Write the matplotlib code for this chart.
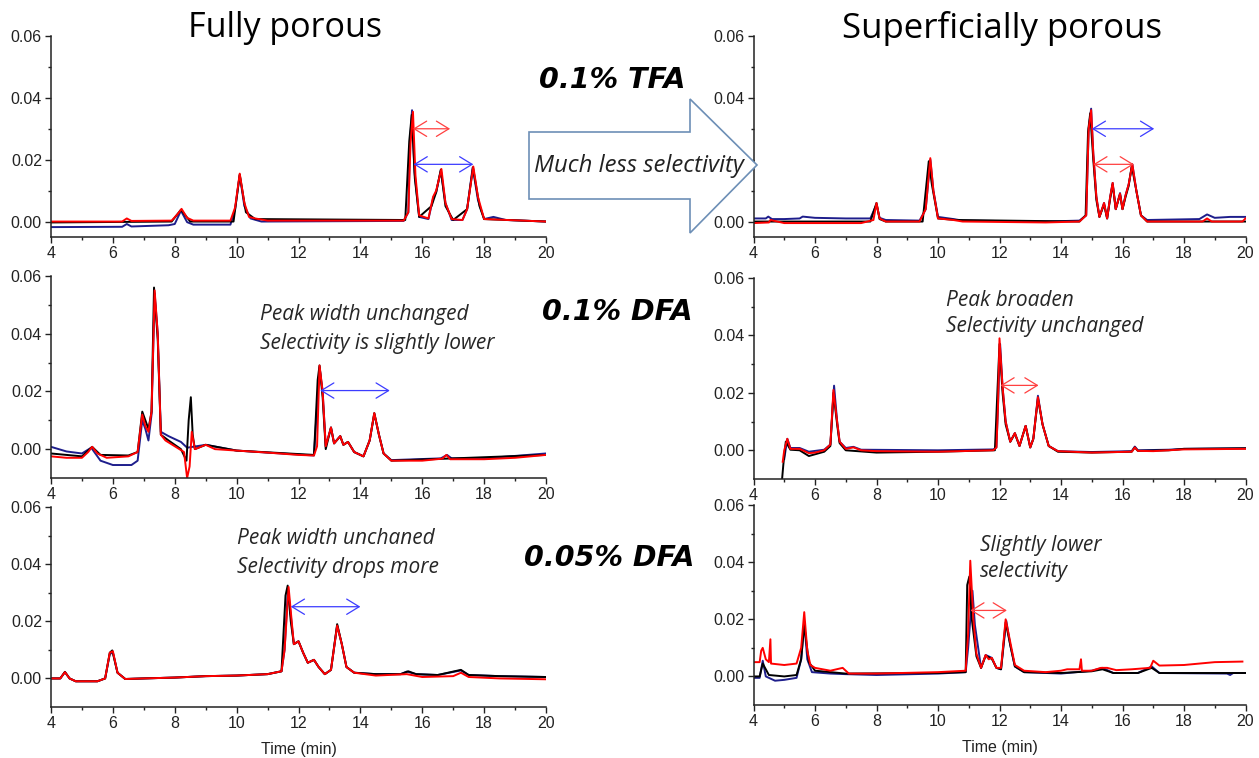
import matplotlib
matplotlib.use("Agg")
import matplotlib.pyplot as plt
from matplotlib.patches import Polygon

# =========================================================
# Chromatogram traces: (time min, absorbance)
# =========================================================

# ---- Fully porous, 0.1% TFA ----
fp_tfa_blue = [(4.0, -0.0018), (6.3, -0.0017), (6.45, -0.0008), (6.6, -0.0016), (7.8, -0.0012),
               (8.0, -0.0008), (8.2, 0.0035), (8.4, -0.0002), (8.6, -0.0010), (9.8, -0.0010),
               (9.95, 0.0040), (10.1, 0.0150), (10.25, 0.0050), (10.45, 0.0010), (10.8, 0.0000),
               (15.4, 0.0002), (15.55, 0.0030), (15.6, 0.0250), (15.67, 0.0360), (15.75, 0.0160),
               (15.9, 0.0015), (16.2, 0.0008), (16.35, 0.0075), (16.45, 0.0095), (16.6, 0.0165),
               (16.75, 0.0060), (16.95, 0.0005), (17.3, 0.0005), (17.45, 0.0040), (17.63, 0.0175),
               (17.8, 0.0070), (18.0, 0.0008), (18.3, 0.0015), (18.5, 0.0010), (18.7, 0.0005),
               (20.0, 0.0000)]
fp_tfa_black = [(4.0, -0.0003), (7.9, 0.0000), (8.2, 0.0038), (8.5, 0.0000), (9.9, 0.0000),
                (10.1, 0.0152), (10.3, 0.0030), (10.6, 0.0008), (15.45, 0.0005), (15.58, 0.0260),
                (15.66, 0.0345), (15.76, 0.0140), (15.9, 0.0015), (16.3, 0.0050), (16.45, 0.0095),
                (16.6, 0.0168), (16.75, 0.0050), (17.0, 0.0005), (17.45, 0.0040), (17.64, 0.0175),
                (17.85, 0.0050), (18.0, 0.0008), (20.0, 0.0000)]
fp_tfa_red = [(4.0, 0.0000), (6.3, 0.0000), (6.45, 0.0010), (6.6, 0.0002), (7.9, 0.0003),
              (8.1, 0.0025), (8.22, 0.0041), (8.4, 0.0012), (8.6, 0.0003), (9.8, 0.0003),
              (9.95, 0.0045), (10.1, 0.0155), (10.25, 0.0060), (10.4, 0.0015), (10.6, 0.0010),
              (11.0, 0.0003), (15.4, 0.0003), (15.55, 0.0030), (15.62, 0.0250), (15.7, 0.0355),
              (15.78, 0.0150), (15.9, 0.0020), (16.2, 0.0010), (16.35, 0.0080), (16.45, 0.0100),
              (16.62, 0.0170), (16.75, 0.0060), (16.95, 0.0008), (17.3, 0.0005), (17.45, 0.0040),
              (17.65, 0.0178), (17.8, 0.0080), (18.0, 0.0008), (20.0, 0.0000)]

# ---- Fully porous, 0.1% DFA ----
fp_dfa_blue = [(4.0, 0.0008), (4.5, -0.0008), (5.0, -0.0015), (5.3, 0.0005), (5.6, -0.0040),
               (6.0, -0.0055), (6.6, -0.0055), (6.8, -0.0040), (6.95, 0.0100), (7.05, 0.0070),
               (7.15, 0.0030), (7.25, 0.0120), (7.35, 0.0540), (7.45, 0.0400), (7.55, 0.0060),
               (7.8, 0.0045), (8.2, 0.0025), (8.4, 0.0005), (8.7, 0.0010), (9.0, 0.0015),
               (10.0, -0.0005), (11.0, -0.0012), (12.5, -0.0022), (12.68, 0.0285), (12.78, 0.0200),
               (12.88, 0.0010), (13.05, 0.0075), (13.15, 0.0020), (13.35, 0.0045), (13.45, 0.0015),
               (13.6, 0.0025), (13.8, -0.0010), (14.1, -0.0025), (14.3, 0.0030), (14.45, 0.0122),
               (14.6, 0.0050), (14.75, -0.0015), (15.0, -0.0038), (16.6, -0.0032), (16.8, -0.0020),
               (16.95, -0.0032), (18.0, -0.0032), (20.0, -0.0015)]
fp_dfa_black = [(4.0, -0.0015), (5.0, -0.0025), (5.33, 0.0008), (5.6, -0.0020), (6.5, -0.0022),
                (6.8, -0.0010), (6.95, 0.0130), (7.15, 0.0070), (7.25, 0.0130), (7.33, 0.0560),
                (7.45, 0.0380), (7.55, 0.0050), (7.8, 0.0030), (8.2, 0.0000), (8.38, -0.0040),
                (8.45, 0.0100), (8.52, 0.0180), (8.58, 0.0050), (8.65, 0.0000), (9.0, 0.0015),
                (10.0, -0.0005), (12.5, -0.0020), (12.62, 0.0240), (12.68, 0.0290), (12.78, 0.0180),
                (12.88, 0.0000), (13.05, 0.0075), (13.15, 0.0020), (13.35, 0.0045), (13.45, 0.0015),
                (13.6, 0.0025), (13.8, -0.0010), (14.1, -0.0025), (14.3, 0.0030), (14.45, 0.0125),
                (14.6, 0.0050), (14.75, -0.0015), (15.0, -0.0040), (20.0, -0.0020)]
fp_dfa_red = [(4.0, -0.0025), (4.5, -0.0030), (5.0, -0.0030), (5.2, -0.0010), (5.33, 0.0008),
              (5.5, -0.0015), (5.8, -0.0030), (6.5, -0.0025), (6.8, -0.0010), (6.95, 0.0120),
              (7.05, 0.0080), (7.15, 0.0060), (7.25, 0.0130), (7.35, 0.0550), (7.45, 0.0400),
              (7.55, 0.0050), (7.7, 0.0030), (8.0, 0.0010), (8.3, -0.0010), (8.4, -0.0100),
              (8.48, -0.0060), (8.55, 0.0060), (8.65, 0.0000), (9.0, 0.0015), (9.3, 0.0000),
              (10.0, -0.0005), (11.0, -0.0012), (12.0, -0.0020), (12.5, -0.0022), (12.6, 0.0010),
              (12.68, 0.0290), (12.78, 0.0200), (12.88, 0.0010), (13.05, 0.0075), (13.15, 0.0020),
              (13.35, 0.0045), (13.45, 0.0015), (13.6, 0.0025), (13.8, -0.0010), (14.1, -0.0025),
              (14.3, 0.0030), (14.45, 0.0125), (14.6, 0.0050), (14.75, -0.0015), (15.0, -0.0040),
              (16.0, -0.0040), (16.65, -0.0033), (16.78, -0.0020), (16.9, -0.0035), (18.0, -0.0035),
              (19.0, -0.0030), (20.0, -0.0020)]

# ---- Fully porous, 0.05% DFA ----
fp_dfa05_blue = [(4.0, 0.0000), (4.3, 0.0000), (4.45, 0.0022), (4.6, 0.0000), (4.8, -0.0010),
                 (5.5, -0.0010), (5.75, 0.0000), (5.9, 0.0085), (6.0, 0.0092), (6.15, 0.0020),
                 (6.4, -0.0002), (7.0, 0.0000), (8.0, 0.0003), (9.0, 0.0008), (10.0, 0.0010),
                 (11.0, 0.0015), (11.45, 0.0025), (11.55, 0.0100), (11.66, 0.0315), (11.78, 0.0190),
                 (11.85, 0.0120), (12.0, 0.0130), (12.15, 0.0090), (12.3, 0.0055), (12.5, 0.0065),
                 (12.65, 0.0040), (12.85, 0.0015), (13.05, 0.0030), (13.25, 0.0185), (13.4, 0.0120),
                 (13.55, 0.0040), (13.8, 0.0020), (14.5, 0.0015), (15.3, 0.0015), (15.5, 0.0024),
                 (15.8, 0.0015), (16.5, 0.0012), (17.25, 0.0028), (17.5, 0.0012), (18.5, 0.0008),
                 (20.0, 0.0005)]
fp_dfa05_black = [(4.0, 0.0000), (4.3, 0.0000), (4.45, 0.0023), (4.6, 0.0000), (4.8, -0.0010),
                  (5.5, -0.0010), (5.75, 0.0000), (5.9, 0.0090), (5.98, 0.0098), (6.15, 0.0020),
                  (6.4, -0.0002), (7.0, 0.0000), (8.0, 0.0003), (9.0, 0.0008), (10.0, 0.0010),
                  (11.0, 0.0015), (11.45, 0.0025), (11.58, 0.0290), (11.65, 0.0325), (11.75, 0.0200),
                  (11.85, 0.0120), (12.0, 0.0130), (12.15, 0.0090), (12.3, 0.0055), (12.5, 0.0065),
                  (12.65, 0.0040), (12.85, 0.0015), (13.05, 0.0030), (13.25, 0.0190), (13.4, 0.0120),
                  (13.55, 0.0040), (13.8, 0.0020), (14.5, 0.0015), (15.3, 0.0015), (15.55, 0.0025),
                  (15.8, 0.0015), (16.5, 0.0012), (17.25, 0.0030), (17.5, 0.0012), (18.5, 0.0008),
                  (20.0, 0.0005)]
fp_dfa05_red = [(4.0, 0.0000), (4.3, 0.0000), (4.45, 0.0022), (4.6, 0.0000), (4.8, -0.0010),
                (5.5, -0.0010), (5.75, 0.0000), (5.9, 0.0090), (6.0, 0.0095), (6.15, 0.0020),
                (6.4, -0.0002), (7.0, 0.0000), (8.0, 0.0003), (9.0, 0.0008), (10.0, 0.0010),
                (11.0, 0.0015), (11.45, 0.0025), (11.55, 0.0100), (11.68, 0.0320), (11.78, 0.0200),
                (11.85, 0.0120), (12.0, 0.0130), (12.15, 0.0090), (12.3, 0.0055), (12.5, 0.0065),
                (12.65, 0.0040), (12.85, 0.0015), (13.05, 0.0030), (13.25, 0.0185), (13.4, 0.0120),
                (13.55, 0.0040), (13.8, 0.0020), (14.5, 0.0010), (15.5, 0.0015), (16.0, 0.0005),
                (17.0, 0.0008), (17.25, 0.0020), (17.5, 0.0005), (18.5, 0.0000), (20.0, -0.0003)]

# ---- Superficially porous, 0.1% TFA ----
spp_tfa_blue = [(4.0, 0.0010), (4.4, 0.0010), (4.48, 0.0016), (4.6, 0.0008), (5.0, 0.0008),
                (5.5, 0.0010), (5.6, 0.0016), (6.0, 0.0012), (7.0, 0.0010), (7.8, 0.0010),
                (8.0, 0.0055), (8.1, 0.0012), (8.3, 0.0005), (9.4, 0.0003), (9.6, 0.0040),
                (9.75, 0.0200), (9.85, 0.0100), (10.0, 0.0015), (10.5, 0.0008), (10.8, 0.0003),
                (13.5, 0.0000), (14.6, 0.0003), (14.82, 0.0020), (14.9, 0.0300), (14.98, 0.0365),
                (15.05, 0.0220), (15.15, 0.0080), (15.25, 0.0015), (15.4, 0.0060), (15.5, 0.0010),
                (15.6, 0.0080), (15.68, 0.0125), (15.78, 0.0040), (15.92, 0.0092), (16.0, 0.0040),
                (16.1, 0.0085), (16.2, 0.0120), (16.32, 0.0185), (16.45, 0.0100), (16.6, 0.0020),
                (16.8, 0.0005), (18.5, 0.0008), (18.75, 0.0023), (19.0, 0.0012), (19.5, 0.0015),
                (20.0, 0.0015)]
spp_tfa_black = [(4.0, 0.0000), (7.8, 0.0000), (8.0, 0.0060), (8.1, 0.0008), (8.3, 0.0000),
                 (9.5, 0.0000), (9.7, 0.0195), (9.8, 0.0120), (10.0, 0.0010), (10.6, 0.0005),
                 (14.6, 0.0000), (14.8, 0.0020), (14.88, 0.0290), (14.95, 0.0350), (15.05, 0.0200),
                 (15.15, 0.0070), (15.25, 0.0015), (15.4, 0.0055), (15.5, 0.0010), (15.6, 0.0075),
                 (15.68, 0.0120), (15.78, 0.0040), (15.92, 0.0088), (16.0, 0.0040), (16.1, 0.0080),
                 (16.2, 0.0115), (16.3, 0.0180), (16.45, 0.0100), (16.6, 0.0020), (16.8, 0.0000),
                 (20.0, 0.0000)]
spp_tfa_red = [(4.0, -0.0005), (4.5, -0.0003), (4.55, 0.0005), (5.0, -0.0005), (6.0, -0.0005),
               (7.5, -0.0005), (7.9, 0.0005), (8.0, 0.0060), (8.1, 0.0010), (8.3, 0.0000),
               (9.4, 0.0000), (9.6, 0.0040), (9.75, 0.0205), (9.85, 0.0100), (10.0, 0.0010),
               (10.5, 0.0005), (10.8, 0.0000), (13.5, -0.0003), (14.6, 0.0000), (14.82, 0.0020),
               (14.9, 0.0300), (14.98, 0.0360), (15.05, 0.0220), (15.15, 0.0080), (15.25, 0.0015),
               (15.4, 0.0060), (15.5, 0.0010), (15.6, 0.0080), (15.68, 0.0125), (15.78, 0.0040),
               (15.92, 0.0090), (16.0, 0.0040), (16.1, 0.0085), (16.2, 0.0120), (16.32, 0.0185),
               (16.45, 0.0100), (16.6, 0.0020), (16.8, 0.0000), (18.6, 0.0000), (18.75, 0.0010),
               (18.9, 0.0000), (19.9, 0.0000), (20.0, 0.0010)]

# ---- Superficially porous, 0.1% DFA ----
spp_dfa_blue = [(5.0, -0.0030), (5.1, 0.0040), (5.2, 0.0008), (5.5, 0.0008), (5.8, -0.0005),
                (6.3, 0.0002), (6.5, 0.0020), (6.62, 0.0225), (6.72, 0.0100), (6.8, 0.0030),
                (7.0, 0.0008), (7.25, 0.0012), (7.5, 0.0002), (10.0, 0.0000), (11.8, 0.0003),
                (11.9, 0.0010), (11.95, 0.0150), (12.02, 0.0370), (12.1, 0.0220), (12.2, 0.0100),
                (12.35, 0.0030), (12.5, 0.0060), (12.65, 0.0015), (12.85, 0.0085), (13.0, 0.0010),
                (13.1, 0.0040), (13.25, 0.0190), (13.4, 0.0090), (13.6, 0.0015), (13.9, -0.0003),
                (15.0, -0.0006), (16.3, -0.0003), (16.4, 0.0013), (16.5, 0.0000), (17.5, 0.0002),
                (18.0, 0.0005), (20.0, 0.0007)]
spp_dfa_black = [(4.93, -0.0100), (4.97, -0.0050), (5.05, 0.0030), (5.2, 0.0002), (5.5, 0.0000),
                 (5.8, -0.0020), (6.3, -0.0005), (6.5, 0.0015), (6.6, 0.0200), (6.72, 0.0090),
                 (6.8, 0.0025), (7.0, 0.0000), (8.0, -0.0008), (10.0, -0.0005), (11.85, 0.0000),
                 (11.93, 0.0200), (12.0, 0.0370), (12.1, 0.0200), (12.2, 0.0090), (12.35, 0.0030),
                 (12.5, 0.0058), (12.65, 0.0015), (12.85, 0.0085), (13.0, 0.0010), (13.1, 0.0040),
                 (13.25, 0.0180), (13.4, 0.0090), (13.6, 0.0015), (13.9, -0.0005), (15.0, -0.0008),
                 (16.3, -0.0005), (16.4, 0.0010), (16.5, -0.0002), (17.5, 0.0000), (18.0, 0.0005),
                 (20.0, 0.0007)]
spp_dfa_red = [(4.95, -0.0040), (5.0, 0.0000), (5.1, 0.0040), (5.2, 0.0005), (5.5, 0.0005),
               (5.8, -0.0010), (6.0, -0.0008), (6.3, 0.0000), (6.5, 0.0020), (6.6, 0.0210),
               (6.72, 0.0100), (6.8, 0.0030), (7.0, 0.0005), (7.25, 0.0010), (7.5, 0.0000),
               (8.0, -0.0003), (10.0, -0.0005), (11.8, 0.0000), (11.9, 0.0010), (11.95, 0.0150),
               (12.0, 0.0390), (12.1, 0.0220), (12.2, 0.0100), (12.35, 0.0030), (12.5, 0.0060),
               (12.65, 0.0015), (12.85, 0.0085), (13.0, 0.0010), (13.1, 0.0040), (13.25, 0.0185),
               (13.4, 0.0090), (13.6, 0.0015), (13.9, -0.0003), (15.0, -0.0008), (16.3, -0.0005),
               (16.4, 0.0010), (16.5, -0.0002), (17.0, -0.0003), (17.5, 0.0000), (18.0, 0.0003),
               (20.0, 0.0005)]

# ---- Superficially porous, 0.05% DFA ----
spp_dfa05_blue = [(4.0, -0.0005), (4.2, -0.0005), (4.3, 0.0055), (4.4, 0.0000), (4.7, -0.0015),
                  (5.0, -0.0012), (5.4, -0.0005), (5.55, 0.0060), (5.65, 0.0190), (5.75, 0.0060),
                  (5.9, 0.0015), (6.5, 0.0010), (7.0, 0.0008), (8.0, 0.0005), (10.0, 0.0010),
                  (10.9, 0.0015), (10.98, 0.0100), (11.12, 0.0300), (11.2, 0.0180), (11.4, 0.0030),
                  (11.55, 0.0075), (11.75, 0.0065), (11.9, 0.0030), (12.05, 0.0025), (12.22, 0.0195),
                  (12.35, 0.0110), (12.5, 0.0035), (12.8, 0.0015), (14.0, 0.0010), (15.0, 0.0020),
                  (15.35, 0.0030), (15.7, 0.0012), (16.5, 0.0012), (16.95, 0.0035), (17.2, 0.0012),
                  (19.4, 0.0010), (19.5, 0.0005), (19.6, 0.0012), (20.0, 0.0012)]
spp_dfa05_black = [(4.0, 0.0000), (4.2, 0.0000), (4.3, 0.0045), (4.5, 0.0005), (5.0, 0.0000),
                   (5.4, 0.0005), (5.55, 0.0060), (5.65, 0.0180), (5.8, 0.0050), (6.0, 0.0020),
                   (7.0, 0.0010), (10.0, 0.0012), (10.9, 0.0015), (10.95, 0.0320), (11.02, 0.0350),
                   (11.1, 0.0200), (11.25, 0.0070), (11.4, 0.0030), (11.55, 0.0072), (11.75, 0.0062),
                   (11.9, 0.0030), (12.05, 0.0025), (12.2, 0.0190), (12.35, 0.0110), (12.5, 0.0035),
                   (12.8, 0.0015), (14.0, 0.0012), (15.0, 0.0018), (15.35, 0.0025), (15.7, 0.0012),
                   (16.5, 0.0012), (16.95, 0.0030), (17.2, 0.0012), (20.0, 0.0012)]
spp_dfa05_red = [(4.0, 0.0050), (4.2, 0.0050), (4.25, 0.0090), (4.3, 0.0100), (4.4, 0.0060),
                 (4.5, 0.0050), (4.55, 0.0130), (4.57, 0.0045), (5.0, 0.0040), (5.4, 0.0045),
                 (5.55, 0.0100), (5.65, 0.0225), (5.75, 0.0090), (5.85, 0.0040), (6.0, 0.0030),
                 (6.5, 0.0020), (6.9, 0.0030), (7.1, 0.0010), (8.0, 0.0010), (10.0, 0.0015),
                 (10.9, 0.0020), (10.98, 0.0150), (11.05, 0.0405), (11.15, 0.0200), (11.25, 0.0080),
                 (11.4, 0.0030), (11.55, 0.0075), (11.65, 0.0060), (11.75, 0.0065), (11.9, 0.0030),
                 (12.05, 0.0030), (12.2, 0.0200), (12.35, 0.0120), (12.5, 0.0040), (12.8, 0.0020),
                 (13.5, 0.0015), (14.0, 0.0020), (14.2, 0.0025), (14.6, 0.0025), (14.65, 0.0060),
                 (14.68, 0.0020), (15.0, 0.0020), (15.3, 0.0030), (15.5, 0.0030), (15.8, 0.0022),
                 (16.3, 0.0025), (16.9, 0.0030), (17.0, 0.0055), (17.2, 0.0038), (18.0, 0.0040),
                 (19.0, 0.0050), (19.9, 0.0052)]

# selectivity arrows: (start time, end time, level, colour)
fp_tfa_arrows = [(15.7, 16.9, 0.030, "#ff4040"), (15.72, 17.65, 0.0185, "#3c3cff")]
fp_dfa_arrows = [(12.7, 14.95, 0.0203, "#3c3cff")]
fp_dfa05_arrows = [(11.75, 14.0, 0.0251, "#3c3cff")]
spp_tfa_arrows = [(15.0, 17.03, 0.030, "#3c3cff"), (15.05, 16.37, 0.0185, "#ff4040")]
spp_dfa_arrows = [(12.03, 13.27, 0.0226, "#ff4040")]
spp_dfa05_arrows = [(11.05, 12.24, 0.0231, "#ff4040")]

# =========================================================
# Figure
# =========================================================

W, H = 1259, 758
fig = plt.figure(figsize=(W / 100, H / 100), dpi=100)

CAL = "Open Sans"
TICK = "Liberation Sans"
BLUE = "#1e1e8c"


def rect(x0, x1, y_top, y_bot):
    return [x0 / W, 1 - y_bot / H, (x1 - x0) / W, (y_bot - y_top) / H]


def fx(x):
    return x / W


def fy(y):
    return 1 - y / H


panels = [
    (rect(51, 546, 36, 237), -0.005, fp_tfa_blue, fp_tfa_black, fp_tfa_red, fp_tfa_arrows, False),
    (rect(51, 546, 276, 478), -0.01, fp_dfa_blue, fp_dfa_black, fp_dfa_red, fp_dfa_arrows, False),
    (rect(51, 546, 507, 707), -0.01, fp_dfa05_blue, fp_dfa05_black, fp_dfa05_red, fp_dfa05_arrows, True),
    (rect(753.5, 1245.5, 36, 237), -0.005, spp_tfa_blue, spp_tfa_black, spp_tfa_red, spp_tfa_arrows, False),
    (rect(753.5, 1245.5, 278, 479), -0.01, spp_dfa_blue, spp_dfa_black, spp_dfa_red, spp_dfa_arrows, False),
    (rect(753.5, 1245.5, 505, 705), -0.01, spp_dfa05_blue, spp_dfa05_black, spp_dfa05_red, spp_dfa05_arrows, True),
]

axes = []
for r, ymin, blue, black, red, arrows, xlabel in panels:
    ax = fig.add_axes(r)
    axes.append(ax)

    for trace, col in [(blue, BLUE), (black, "black"), (red, "#ff0000")]:
        t, y = zip(*trace)
        ax.plot(t, y, color=col, lw=1.4, solid_joinstyle="round")

    for t0, t1, lev, col in arrows:
        ax.annotate(
            "", xy=(t1, lev), xytext=(t0, lev),
            arrowprops=dict(arrowstyle="<->,head_length=0.9,head_width=0.55",
                            color=col, lw=0.9, mutation_scale=10,
                            shrinkA=0, shrinkB=0),
        )

    ax.set_xlim(4, 20)
    ax.set_ylim(ymin, 0.06)
    ax.set_xticks(range(4, 21, 2))
    ax.set_xticks(range(5, 20, 2), minor=True)
    ax.set_yticks([0.0, 0.02, 0.04, 0.06])
    ax.set_yticks([0.01, 0.03, 0.05], minor=True)
    ax.set_yticklabels(["0.00", "0.02", "0.04", "0.06"])

    for side in ["top", "right"]:
        ax.spines[side].set_visible(False)
    for side in ["left", "bottom"]:
        ax.spines[side].set_linewidth(1.1)
        ax.spines[side].set_color("#222222")

    ax.tick_params(which="major", direction="out", length=4.5, width=1.0,
                   labelsize=11.5, pad=2, colors="#222222")
    ax.tick_params(which="minor", direction="out", length=2.5, width=1.0, colors="#222222")
    for lab in ax.get_xticklabels() + ax.get_yticklabels():
        lab.set_family(TICK)

    if xlabel:
        ax.set_xlabel("Time (min)", family=TICK, fontsize=11.5, labelpad=8, color="#222222")

# the 0.02 label of the top right panel sits under the big arrow
axes[3].get_yticklabels()[1].set_visible(False)

# column titles
fig.text(fx(285), fy(28), "Fully porous", family=CAL, fontsize=24.5,
         ha="center", va="center")
fig.text(fx(1002), fy(28), "Superficially porous", family=CAL, fontsize=25,
         ha="center", va="center")

# big arrow between the top panels
outline = [(529, 132), (690, 132), (690, 99), (757, 165), (690, 233), (690, 199), (529, 199)]
arrow = Polygon([(fx(x), fy(y)) for x, y in outline], closed=True,
                facecolor="white", edgecolor="#6d8fb6", lw=1.2,
                transform=fig.transFigure, zorder=10)
fig.add_artist(arrow)

fig.text(fx(639), fy(166), "Much less selectivity", family=CAL, style="italic",
         fontsize=17.2, ha="center", va="center", color="#222222", zorder=11)

# mobile phase labels
for x, y, s in [(612, 80, "0.1% TFA"), (617, 312, "0.1% DFA"), (609, 558, "0.05% DFA")]:
    fig.text(fx(x), fy(y), s, family="DejaVu Sans", style="oblique", weight="bold",
             fontsize=20.5, ha="center", va="center", zorder=11)

# observations
notes = [
    (260, 315, 343, "Peak width unchanged", "Selectivity is slightly lower"),
    (237, 538, 567, "Peak width unchaned", "Selectivity drops more"),
    (946, 300, 327, "Peak broaden", "Selectivity unchanged"),
    (980, 545, 572, "Slightly lower", "selectivity"),
]
for x, y1, y2, s1, s2 in notes:
    for y, s in [(y1, s1), (y2, s2)]:
        fig.text(fx(x), fy(y), s, family=CAL, style="italic", fontsize=15,
                 ha="left", va="center", color="#262626")

fig.savefig("out.png", dpi=100)
